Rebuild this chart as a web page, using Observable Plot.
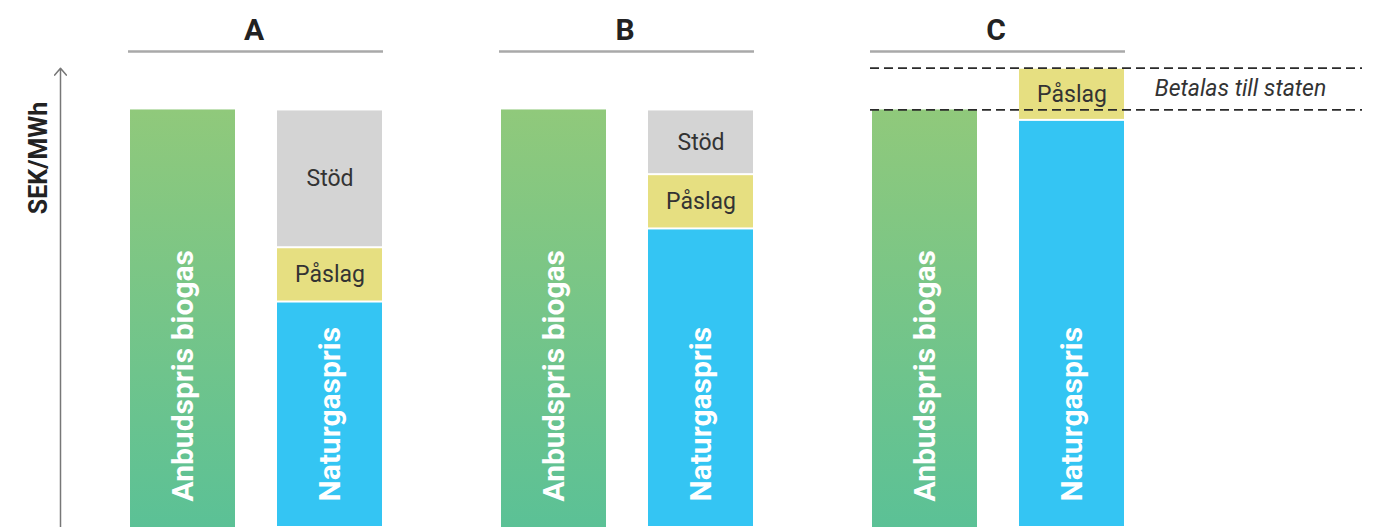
<!DOCTYPE html>
<html>
<head>
<meta charset="utf-8">
<script src="https://cdn.jsdelivr.net/npm/d3@7"></script>
<script src="https://cdn.jsdelivr.net/npm/@observablehq/plot@0.6"></script>
<style>
  html, body { margin: 0; padding: 0; background: #fff; }
  #chart svg { display: block; }
</style>
</head>
<body>
<div id="chart"></div>
<script>
// ---- Data (arbitrary SEK/MWh units) ----
const scenarios = ["A", "B", "C"];
const barKinds = ["Anbudspris biogas", "Naturgaspris"];
const segments = ["Naturgaspris", "Påslag", "Stöd"];
const segmentColors = ["#34c5f3", "#e6df81", "#d4d4d4"];
const biogasPrice = [100, 100, 100];
const naturgasPrice = [54, 71.5, 97.5];
const paslag = [13, 13, 12.5];
const stod = [33, 15.5, 0];
const stateLevels = [100, 110];      // band "Betalas till staten" in C
const stateLabel = "Betalas till staten";
const yLabel = "SEK/MWh";
const yMax = 114;                     // top of the frame (header rule)
const axisTop = 110;                  // tip of the value-axis arrow
const yLabelAt = 88.5;

// ---- Tables built from the arrays ----
const bio = scenarios.map((s, i) => ({scenario: s, kind: barKinds[0], value: biogasPrice[i]}));
const stack = scenarios.flatMap((s, i) => [
  {scenario: s, kind: barKinds[1], segment: segments[0], value: naturgasPrice[i]},
  {scenario: s, kind: barKinds[1], segment: segments[1], value: paslag[i]},
  {scenario: s, kind: barKinds[1], segment: segments[2], value: stod[i]}
]).filter(d => d.value > 0);
const barLabels = scenarios.flatMap(s => barKinds.map(k => ({scenario: s, kind: k})));

const chart = Plot.plot({
  width: 1373,
  height: 527,
  marginLeft: 128,
  marginRight: 248,
  marginTop: 51,
  marginBottom: 0,
  style: {fontFamily: "Roboto, sans-serif", background: "#fff"},
  fx: {axis: null, domain: scenarios, paddingInner: 0.313, paddingOuter: 0},
  x: {axis: null, domain: barKinds, paddingInner: 0.286, paddingOuter: 0.01},
  y: {axis: null, domain: [0, yMax]},
  color: {domain: segments, range: segmentColors},
  marks: [
    Plot.barY(bio, {fx: "scenario", x: "kind", y: "value", fill: "url(#bioGrad)"}),
    Plot.barY(stack, {fx: "scenario", x: "kind", y: "value", fill: "segment", z: "segment", order: segments, insetTop: 1, insetBottom: 1}),
    Plot.text(stack, Plot.stackY({
      fx: "scenario", x: "kind", y: "value", z: "segment", order: segments,
      text: d => d.segment === segments[0] ? null : d.segment,
      fill: "#333", fontSize: 23
    })),
    Plot.text(barLabels, {
      fx: "scenario", x: "kind", text: "kind", frameAnchor: "bottom",
      rotate: -90, textAnchor: "start", lineAnchor: "middle", dy: -26,
      fill: "white", fontWeight: "bold", fontSize: 30
    }),
    Plot.ruleY(stateLevels, {
      fx: () => scenarios[2], y: d => d, insetRight: -237,
      stroke: "#2a2a2a", strokeWidth: 1.8, strokeDasharray: "9,5"
    }),
    Plot.text([scenarios[2]], {
      fx: d => d, x: () => barKinds[1], y: () => d3.mean(stateLevels),
      text: () => stateLabel, dx: 168.5,
      fontStyle: "italic", fontSize: 23, fill: "#333"
    }),
    Plot.text(scenarios, {
      fx: d => d, text: d => d, frameAnchor: "top", lineAnchor: "middle", dy: -21, dx: -2,
      fontSize: 30, fontWeight: "bold", fill: "#222"
    }),
    Plot.ruleY(scenarios, {fx: d => d, y: () => yMax, stroke: "#a9a9a9", strokeWidth: 2.5}),
    Plot.arrow([scenarios[0]], {
      fx: d => d, x1: () => barKinds[0], x2: () => barKinds[0],
      y1: () => 0, y2: () => axisTop, dx: -122.5,
      stroke: "#777", strokeWidth: 1.5, headLength: 9, headAngle: 80
    }),
    Plot.text([scenarios[0]], {
      fx: d => d, x: () => barKinds[0], y: () => yLabelAt,
      text: () => yLabel, rotate: -90, dx: -144.5,
      fontWeight: "bold", fontSize: 25, fill: "#222"
    })
  ]
});

d3.select(chart).insert("defs", ":first-child").html(
  '<linearGradient id="bioGrad" x1="0" y1="0" x2="0" y2="1">' +
  '<stop offset="0" stop-color="#90c97b"/><stop offset="1" stop-color="#5bc196"/>' +
  '</linearGradient>'
);

document.getElementById("chart").append(chart);
</script>
</body>
</html>
